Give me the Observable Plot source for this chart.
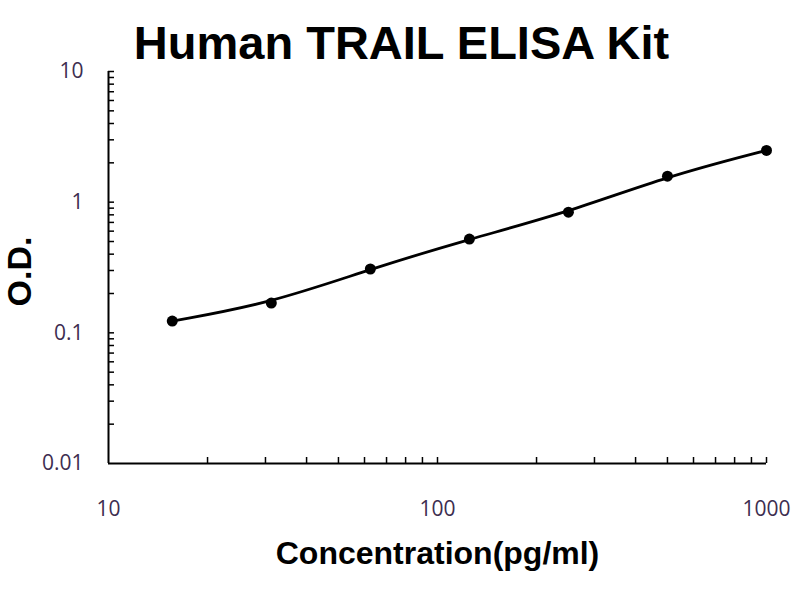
<!DOCTYPE html>
<html>
<head>
<meta charset="utf-8">
<script src="https://cdn.jsdelivr.net/npm/d3@7"></script>
<script src="https://cdn.jsdelivr.net/npm/@observablehq/plot@0.6"></script>
<style>
  html, body { margin: 0; padding: 0; background: white; }
</style>
</head>
<body>
<div id="chart"></div>
<script>
const title = "Human TRAIL ELISA Kit";
const xLabel = "Concentration(pg/ml)";
const yLabel = "O.D.";
const conc = [15.625, 31.25, 62.5, 125, 250, 500, 1000];
const od = [0.123, 0.169, 0.308, 0.522, 0.839, 1.58, 2.49];
const xTicks = [10, 100, 1000];
const yTicks = [0.01, 0.1, 1, 10];
const xMinorTicks = [20, 30, 40, 50, 60, 70, 80, 90, 100, 200, 300, 400, 500, 600, 700, 800, 900, 1000];
const yMinorTicks = [0.02, 0.03, 0.04, 0.05, 0.06, 0.07, 0.08, 0.09, 0.1,
                     0.2, 0.3, 0.4, 0.5, 0.6, 0.7, 0.8, 0.9, 1,
                     2, 3, 4, 5, 6, 7, 8, 9, 10];

const data = conc.map((c, i) => ({conc: c, od: od[i]}));

const W = 800, H = 600, mL = 108, mR = 34, mT = 71, mB = 137;
const frameW = W - mL - mR, frameH = H - mT - mB;
const tickColor = "#3d2d50";

const chart = Plot.plot({
  width: W, height: H,
  marginLeft: mL, marginRight: mR, marginTop: mT, marginBottom: mB,
  x: {type: "log", domain: [xTicks[0], xTicks[xTicks.length - 1]], axis: null},
  y: {type: "log", domain: [yTicks[0], yTicks[yTicks.length - 1]], axis: null},
  style: {background: "white", fontFamily: "'Liberation Sans', Arial, sans-serif", overflow: "visible"},
  marks: [
    Plot.ruleY([yTicks[0]], {stroke: "black", strokeWidth: 2}),
    Plot.ruleX([xTicks[0]], {stroke: "black", strokeWidth: 2}),
    Plot.tickX(xMinorTicks, {x: d => d, insetTop: frameH - 6, stroke: "black", strokeWidth: 1.5}),
    Plot.tickY(yMinorTicks, {y: d => d, insetRight: frameW - 6, stroke: "black", strokeWidth: 1.5}),
    Plot.text(xTicks, {x: d => d, text: d => String(d), frameAnchor: "bottom", lineAnchor: "middle", dy: 46,
      fontSize: 21, fill: tickColor, fontFamily: "'Open Sans', sans-serif"}),
    Plot.text(yTicks, {y: d => d, text: d => String(d), frameAnchor: "left", textAnchor: "end", lineAnchor: "middle", dx: -25,
      fontSize: 21, fill: tickColor, fontFamily: "'Open Sans', sans-serif"}),
    Plot.line(data, {x: "conc", y: "od", curve: "basis", stroke: "black", strokeWidth: 2.8}),
    Plot.dot(data, {x: "conc", y: "od", r: 5.5, fill: "black", stroke: "none"}),
    Plot.text([title], {frameAnchor: "top", lineAnchor: "middle", textAnchor: "middle", dy: -28, dx: -36,
      fontSize: 47, fontWeight: "bold", fill: "black"}),
    Plot.text([xLabel], {frameAnchor: "bottom", lineAnchor: "middle", textAnchor: "middle", dy: 90,
      fontSize: 32, fontWeight: "bold", fill: "black"}),
    Plot.text([yLabel], {frameAnchor: "left", lineAnchor: "middle", textAnchor: "middle", dx: -88, dy: 4, rotate: -90,
      fontSize: 34, fontWeight: "bold", fill: "black"})
  ]
});
document.getElementById("chart").appendChild(chart);
</script>
</body>
</html>
